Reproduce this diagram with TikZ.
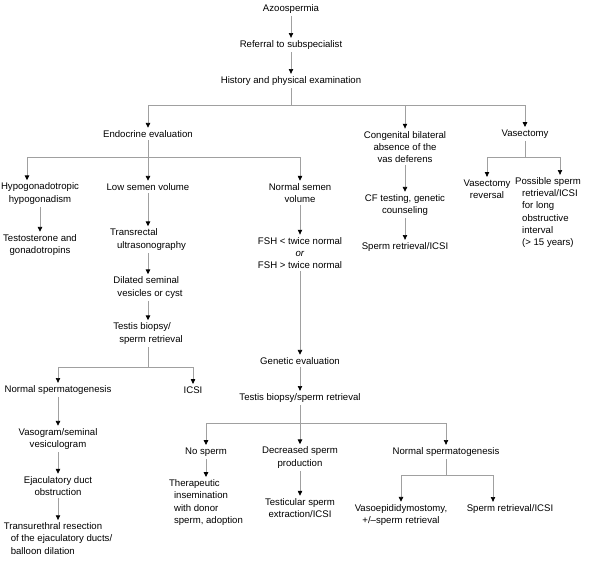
\documentclass[tikz,border=0pt]{standalone}
\usepackage{fontspec}
\setmainfont{Liberation Sans}
\usetikzlibrary{arrows.meta}
\definecolor{linegray}{RGB}{160,160,160}

\begin{document}
\begin{tikzpicture}[x=1pt,y=1pt]
	\tikzstyle{every node}+=[inner xsep=0pt,inner ysep=2.5pt,font=\fontsize{9.6}{12.2}\selectfont]
	\tikzstyle{ctext}=[align=center]
	\tikzstyle{ltext}=[align=left]
	\tikzstyle{link}=[draw=linegray,line width=0.7pt]
	\tikzstyle{arr}=[link,-{Triangle[black,length=4.8pt,width=4.4pt]}]
	\useasboundingbox (0,0) rectangle (594,-571);
	% top of the tree
	\node (azo) at (291,-9) {Azoospermia};
	\node (refer) at (291,-45) {Referral to subspecialist};
	\node (hist) at (291,-81) {History and physical examination};
	\draw [arr] (azo) -- (refer);
	\draw [arr] (refer) -- (hist);
	\node (endo) at (148,-134) {Endocrine evaluation};
	\node [ctext] (cbavd) at (405,-147) {Congenital bilateral\\absence of the\\vas deferens};
	\node (vasec) at (525,-134) {Vasectomy};
	\coordinate (b1) at (0,-105);
	\draw [link] (hist) -- (hist |- b1);
	\draw [link] (endo |- b1) -- (vasec |- b1);
	\draw [arr] (endo |- b1) -- (endo);
	\draw [arr] (cbavd |- b1) -- (cbavd);
	\draw [arr] (vasec |- b1) -- (vasec);
	% endocrine evaluation
	\node [ctext] (hypo) at (40,-193.5) {Hypogonadotropic\\hypogonadism};
	\node (lowsv) at (148,-187) {Low semen volume};
	\node [ctext] (normsv) at (300,-193) {Normal semen\\volume};
	\coordinate (b2) at (0,-157);
	\coordinate (hypoin) at ([xshift=-13pt]hypo.north);
	\draw [link] (endo) -- (endo |- b2);
	\draw [link] (hypoin |- b2) -- (normsv |- b2);
	\draw [arr] (hypoin |- b2) -- (hypoin);
	\draw [arr] (lowsv |- b2) -- (lowsv);
	\draw [arr] (normsv |- b2) -- (normsv);
	\node [ctext] (testo) at (40,-245) {Testosterone and\\gonadotropins};
	\draw [arr] (hypo) -- (testo);
	% low semen volume
	\node [ltext] (trus) at (148,-239.5) {Transrectal\\\hspace*{7pt}ultrasonography};
	\node [ltext] (dilated) at (148,-287.5) {Dilated seminal\\\hspace*{4pt}vesicles or cyst};
	\node [ltext] (tbsr) at (148,-333.5) {Testis biopsy/\\\hspace*{6pt}sperm retrieval};
	\draw [arr] (lowsv) -- (trus);
	\draw [arr] (trus) -- (dilated);
	\draw [arr] (dilated) -- (tbsr);
	\node (nsperm) at (58,-390) {Normal spermatogenesis};
	\node (icsi) at (193,-390) {ICSI};
	\coordinate (b5) at (0,-367);
	\draw [link] (tbsr) -- (tbsr |- b5);
	\draw [link] (nsperm |- b5) -- (icsi |- b5);
	\draw [arr] (nsperm |- b5) -- (nsperm);
	\draw [arr] (icsi |- b5) -- (icsi);
	\node [ctext] (vaso) at (58,-439) {Vasogram/seminal\\vesiculogram};
	\node [ctext] (ejac) at (58,-486) {Ejaculatory duct\\obstruction};
	\node [ltext] (turp) at (58,-538.5) {Transurethral resection\\\hspace*{7pt}of the ejaculatory ducts/\\\hspace*{7pt}balloon dilation};
	\draw [arr] (nsperm) -- (vaso);
	\draw [arr] (vaso) -- (ejac);
	\draw [arr] (ejac) -- (turp);
	% normal semen volume
	\node [ctext] (fsh) at (300,-253) {FSH < twice normal\\\textit{or}\\FSH > twice normal};
	\node (geneval) at (300,-361) {Genetic evaluation};
	\node (tbsr2) at (300,-398) {Testis biopsy/sperm retrieval};
	\draw [arr] (normsv) -- (fsh);
	\draw [arr] (fsh) -- (geneval);
	\draw [arr] (geneval) -- (tbsr2);
	\node (nosperm) at (206,-452) {No sperm};
	\node [ctext] (decr) at (300,-457.5) {Decreased sperm\\production};
	\node (nsperm2) at (446,-452) {Normal spermatogenesis};
	\coordinate (b6) at (0,-423);
	\draw [link] (tbsr2) -- (tbsr2 |- b6);
	\draw [link] (nosperm |- b6) -- (nsperm2 |- b6);
	\draw [arr] (nosperm |- b6) -- (nosperm);
	\draw [arr] (decr |- b6) -- (decr);
	\draw [arr] (nsperm2 |- b6) -- (nsperm2);
	\node [ltext] (thera) at (206,-502.5) {Therapeutic\\\hspace*{5pt}insemination\\\hspace*{5pt}with donor\\\hspace*{5pt}sperm, adoption};
	\node [ctext] (testic) at (300,-508) {Testicular sperm\\extraction/ICSI};
	\draw [arr] (nosperm) -- (thera);
	\draw [arr] (decr) -- (testic);
	\node [ctext] (vepi) at (401,-515) {Vasoepididymostomy,\\+/--sperm retrieval};
	\node (sricsi) at (510,-509) {Sperm retrieval/ICSI};
	\coordinate (b7) at (0,-475);
	\coordinate (sricsiin) at ([xshift=-17pt]sricsi.north);
	\draw [link] (nsperm2) -- (nsperm2 |- b7);
	\draw [link] (vepi |- b7) -- (sricsiin |- b7);
	\draw [arr] (vepi |- b7) -- (vepi);
	\draw [arr] (sricsiin |- b7) -- (sricsiin);
	% congenital absence of the vas deferens
	\node [ctext] (cf) at (405,-205) {CF testing, genetic\\counseling};
	\node (sr) at (405,-247) {Sperm retrieval/ICSI};
	\draw [arr] (cbavd) -- (cf);
	\draw [arr] (cf) -- (sr);
	% vasectomy
	\node [ctext] (vrev) at (487,-189) {Vasectomy\\reversal};
	\node [ltext] (possible) at (548,-212.5) {Possible sperm\\\hspace*{7pt}retrieval/ICSI\\\hspace*{7pt}for long\\\hspace*{7pt}obstructive\\\hspace*{7pt}interval\\\hspace*{7pt}(> 15 years)};
	\coordinate (b3) at (0,-157);
	\coordinate (possin) at ([xshift=12pt]possible.north);
	\draw [link] (vasec) -- (vasec |- b3);
	\draw [link] (vrev |- b3) -- (possin |- b3);
	\draw [arr] (vrev |- b3) -- (vrev);
	\draw [arr] (possin |- b3) -- (possin);
\end{tikzpicture}
\end{document}
